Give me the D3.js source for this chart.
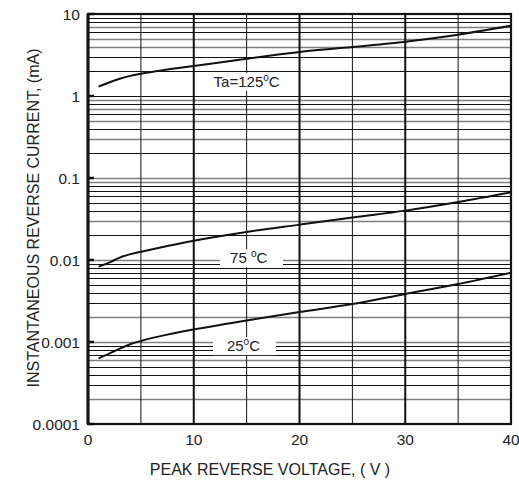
<!DOCTYPE html>
<html>
<head>
<meta charset="utf-8">
<script src="https://cdn.jsdelivr.net/npm/d3@7"></script>
<style>
  body { margin: 0; background: #fff; }
  text { font-family: "Liberation Sans", Arial, sans-serif; fill: #222; }
</style>
</head>
<body>
<div id="chart"></div>
<script>
// Reverse voltage (V) and instantaneous reverse current (mA)
const voltage = [1, 2, 3, 4, 5, 7.5, 10, 15, 20, 25, 30, 35, 40];
const current125 = [1.3, 1.46, 1.62, 1.76, 1.87, 2.1, 2.32, 2.85, 3.45, 3.95, 4.6, 5.6, 7.2];
const current75 = [0.0083, 0.0093, 0.0107, 0.0118, 0.0126, 0.0148, 0.0172, 0.022, 0.027, 0.033, 0.04, 0.051, 0.067];
const current25 = [0.00063, 0.00072, 0.00083, 0.00094, 0.00103, 0.00123, 0.00142, 0.00183, 0.00232, 0.0029, 0.00385, 0.0051, 0.007];

const xTicks = [0, 10, 20, 30, 40];
const yTicks = [0.0001, 0.001, 0.01, 0.1, 1, 10];
const yTickLabels = ["0.0001", "0.001", "0.01", "0.1", "1", "10"];
const multipliers = [2, 3, 4, 5, 6, 7, 8, 9];

const labels = [
  { v: 15, i: 1.48, main: "Ta=125", box: [213, 279] },
  { v: 15.2, i: 0.0105, main: "75 ", box: [220, 283] },
  { v: 14.7, i: 0.00089, main: "25", box: [213, 276] },
];

// grid lines drawn gray (others black), per decade start
const grayMinor = {
  "1": [7, 5, 4],
  "0.1": [9, 7, 5, 3],
  "0.01": [9, 3],
  "0.001": [2],
  "0.0001": [6, 2],
};
const grayMajor = [0.1, 0.01, 0.001];

const width = 519, height = 488;

const svg = d3.select("#chart").append("svg")
  .attr("width", width)
  .attr("height", height);

const x = d3.scaleLinear().domain([0, 40]).range([88, 511]);
const y = d3.scaleLog().domain([0.0001, 10]).range([424, 14]);

// horizontal grid
const hLines = [];
yTicks.slice(0, -1).forEach((d) => {
  multipliers.forEach((m) => {
    hLines.push({ value: d * m, gray: grayMinor[String(d)].includes(m) });
  });
  if (d !== 0.0001) hLines.push({ value: d, gray: grayMajor.includes(d) });
});

svg.append("g")
  .selectAll("line")
  .data(hLines)
  .enter()
  .append("line")
  .attr("x1", x(0))
  .attr("x2", x(40))
  .attr("y1", (d) => Math.round(y(d.value)) + 0.5)
  .attr("y2", (d) => Math.round(y(d.value)) + 0.5)
  .attr("stroke", (d) => (d.gray ? "#808080" : "#111"))
  .attr("stroke-width", (d) => (d.gray ? 1.6 : 1));

// vertical grid
svg.append("g")
  .selectAll("line")
  .data(d3.range(5, 40, 5))
  .enter()
  .append("line")
  .attr("x1", (d) => x(d))
  .attr("x2", (d) => x(d))
  .attr("y1", y(10))
  .attr("y2", y(0.0001))
  .attr("stroke", "#111")
  .attr("stroke-width", (d) => (d % 10 === 0 ? 2 : 1));

// frame
svg.append("rect")
  .attr("x", x(0))
  .attr("y", y(10))
  .attr("width", x(40) - x(0))
  .attr("height", y(0.0001) - y(10))
  .attr("fill", "none")
  .attr("stroke", "#111")
  .attr("stroke-width", 2.2);
svg.append("line")
  .attr("x1", x(0)).attr("x2", x(0))
  .attr("y1", y(10)).attr("y2", y(0.0001))
  .attr("stroke", "#111").attr("stroke-width", 3);

// decade ticks
svg.append("g")
  .selectAll("line")
  .data(yTicks)
  .enter()
  .append("line")
  .attr("x1", x(0))
  .attr("x2", x(0) + 6)
  .attr("y1", (d) => y(d))
  .attr("y2", (d) => y(d))
  .attr("stroke", "#111")
  .attr("stroke-width", 2.5);

// curves
const line = d3.line()
  .x((d) => x(d[0]))
  .y((d) => y(d[1]))
  .curve(d3.curveMonotoneX);

[current125, current75, current25].forEach((series) => {
  svg.append("path")
    .datum(voltage.map((v, i) => [v, series[i]]))
    .attr("d", line)
    .attr("fill", "none")
    .attr("stroke", "#111")
    .attr("stroke-width", 2);
});

// curve labels
labels.forEach((d) => {
  const cy = y(d.i);
  svg.append("rect")
    .attr("x", d.box[0])
    .attr("y", cy - 9)
    .attr("width", d.box[1] - d.box[0])
    .attr("height", 18)
    .attr("fill", "#fff");
  const t = svg.append("text")
    .attr("x", x(d.v))
    .attr("y", cy + 5)
    .attr("text-anchor", "middle")
    .style("font-size", "15px");
  t.append("tspan").text(d.main);
  t.append("tspan").attr("dy", -6).style("font-size", "10px").text("o");
  t.append("tspan").attr("dy", 6).text("C");
});

// tick labels
svg.append("g")
  .selectAll("text")
  .data(xTicks)
  .enter()
  .append("text")
  .attr("x", (d) => x(d))
  .attr("y", 445)
  .attr("text-anchor", "middle")
  .style("font-size", "15.5px")
  .text((d) => d);

svg.append("g")
  .selectAll("text")
  .data(yTicks)
  .enter()
  .append("text")
  .attr("x", 80)
  .attr("y", (d) => y(d) + 5.5)
  .attr("text-anchor", "end")
  .style("font-size", "15.5px")
  .text((d, i) => yTickLabels[i]);

// axis titles
svg.append("text")
  .attr("x", 270)
  .attr("y", 475)
  .attr("text-anchor", "middle")
  .style("font-size", "16px")
  .text("PEAK REVERSE VOLTAGE, ( V )");

svg.append("text")
  .attr("transform", "translate(39,218) rotate(-90)")
  .attr("text-anchor", "middle")
  .style("font-size", "16px")
  .text("INSTANTANEOUS REVERSE CURRENT, (mA)");
</script>
</body>
</html>
